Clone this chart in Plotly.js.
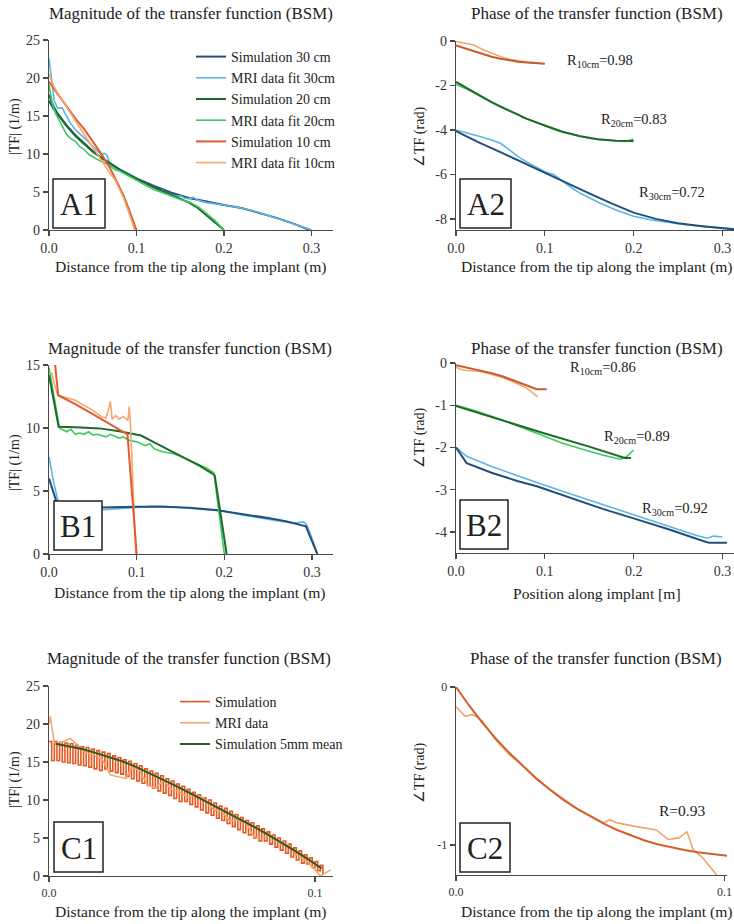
<!DOCTYPE html>
<html>
<head>
<meta charset="utf-8">
<script src="https://cdn.plot.ly/plotly-3.0.1.min.js"></script>
<style>
  html, body { margin: 0; padding: 0; background: #fff; }
  #chart { width: 734px; height: 924px; }
</style>
</head>
<body>
<div id="chart"></div>
<script>
// ---------- Panel A1: magnitude, 30/20/10 cm implants (1/m) ----------
const a1Sim30X = [0, 0.005, 0.01, 0.02, 0.03, 0.04, 0.05, 0.06, 0.07, 0.08, 0.09, 0.1, 0.12, 0.14, 0.16, 0.18, 0.2, 0.22, 0.24, 0.26, 0.28, 0.29, 0.298];
const a1Sim30Y = [17.0, 16.0, 15.2, 13.7, 12.4, 11.3, 10.3, 9.5, 8.7, 8.0, 7.4, 6.8, 5.8, 4.9, 4.2, 3.7, 3.3, 2.9, 2.3, 1.6, 0.8, 0.4, 0];
const a1Mri30X = [0, 0.003, 0.006, 0.01, 0.015, 0.02, 0.025, 0.03, 0.035, 0.04, 0.045, 0.05, 0.055, 0.06, 0.063, 0.066, 0.07, 0.075, 0.08, 0.09, 0.1, 0.11, 0.12, 0.125, 0.13, 0.135, 0.14, 0.145, 0.15, 0.155, 0.16, 0.165, 0.17, 0.18, 0.2, 0.22, 0.24, 0.26, 0.28, 0.29, 0.3];
const a1Mri30Y = [22.6, 19.5, 17.0, 16.0, 16.1, 15.0, 14.0, 13.2, 12.7, 12.2, 11.6, 11.0, 10.4, 9.9, 10.1, 9.9, 8.6, 8.2, 7.9, 7.3, 6.7, 6.2, 5.5, 5.3, 5.2, 4.8, 4.7, 4.4, 4.5, 4.2, 4.1, 4.3, 3.9, 3.6, 3.3, 2.9, 2.3, 1.6, 0.8, 0.4, 0];
const a1Sim20X = [0, 0.005, 0.01, 0.02, 0.03, 0.04, 0.05, 0.06, 0.07, 0.08, 0.09, 0.1, 0.12, 0.14, 0.16, 0.17, 0.18, 0.19, 0.2];
const a1Sim20Y = [17.8, 16.3, 15.3, 13.8, 12.5, 11.4, 10.4, 9.5, 8.7, 8.0, 7.3, 6.7, 5.6, 4.6, 3.6, 2.9, 1.9, 1.0, 0];
const a1Mri20X = [0, 0.004, 0.008, 0.012, 0.016, 0.02, 0.025, 0.03, 0.035, 0.04, 0.046, 0.05, 0.055, 0.06, 0.065, 0.07, 0.076, 0.08, 0.09, 0.1, 0.11, 0.12, 0.13, 0.14, 0.15, 0.16, 0.17, 0.18, 0.19, 0.2];
const a1Mri20Y = [19.1, 16.5, 15.2, 14.3, 13.4, 12.6, 12.0, 11.7, 11.0, 10.6, 9.9, 9.6, 9.3, 9.0, 8.8, 8.4, 7.9, 7.8, 7.2, 6.6, 6.0, 5.3, 4.9, 4.4, 4.0, 3.7, 3.1, 2.2, 1.2, 0];
const a1Sim10X = [0, 0.01, 0.02, 0.03, 0.04, 0.05, 0.06, 0.07, 0.08, 0.085, 0.09, 0.095, 0.1];
const a1Sim10Y = [19.5, 17.9, 16.3, 14.7, 13.3, 11.7, 10.0, 8.1, 5.9, 4.6, 3.1, 1.6, 0];
const a1Mri10X = [0, 0.005, 0.01, 0.02, 0.03, 0.04, 0.05, 0.06, 0.065, 0.07, 0.075, 0.08, 0.085, 0.09, 0.095, 0.098];
const a1Mri10Y = [20.5, 19.0, 18.0, 16.2, 14.3, 12.6, 10.9, 9.2, 8.2, 7.4, 6.7, 5.6, 4.3, 2.7, 0.8, 0];

// ---------- Panel A2: phase (rad) ----------
const a2Sim10X = [0, 0.01, 0.02, 0.03, 0.04, 0.05, 0.06, 0.07, 0.08, 0.09, 0.1];
const a2Sim10Y = [-0.2, -0.33, -0.47, -0.6, -0.71, -0.8, -0.87, -0.93, -0.97, -1.0, -1.02];
const a2Mri10X = [0, 0.01, 0.02, 0.03, 0.04, 0.05, 0.06, 0.07, 0.08, 0.09, 0.095];
const a2Mri10Y = [-0.02, -0.09, -0.18, -0.38, -0.55, -0.7, -0.82, -0.9, -0.95, -0.98, -0.99];
const a2Sim20X = [0, 0.02, 0.04, 0.06, 0.08, 0.1, 0.12, 0.14, 0.16, 0.18, 0.2];
const a2Sim20Y = [-1.84, -2.3, -2.75, -3.13, -3.5, -3.8, -4.08, -4.28, -4.42, -4.49, -4.5];
const a2Mri20X = [0, 0.01, 0.02, 0.03, 0.04, 0.05, 0.06, 0.07, 0.075, 0.08, 0.09, 0.1, 0.11, 0.12, 0.13, 0.14, 0.15, 0.16, 0.17, 0.18, 0.19, 0.2];
const a2Mri20Y = [-1.95, -2.12, -2.33, -2.55, -2.77, -2.97, -3.15, -3.3, -3.45, -3.5, -3.66, -3.82, -3.97, -4.1, -4.2, -4.3, -4.37, -4.43, -4.47, -4.5, -4.52, -4.42];
const a2Sim30X = [0, 0.025, 0.05, 0.075, 0.1, 0.125, 0.15, 0.175, 0.2, 0.225, 0.25, 0.275, 0.3, 0.313];
const a2Sim30Y = [-4.05, -4.55, -5.0, -5.47, -5.93, -6.4, -6.85, -7.3, -7.72, -8.0, -8.2, -8.32, -8.42, -8.47];
const a2Mri30X = [0, 0.01, 0.02, 0.03, 0.04, 0.05, 0.06, 0.07, 0.08, 0.09, 0.1, 0.105, 0.11, 0.12, 0.13, 0.14, 0.15, 0.16, 0.18, 0.2, 0.22, 0.25, 0.28, 0.3, 0.313];
const a2Mri30Y = [-4.0, -4.1, -4.2, -4.33, -4.45, -4.6, -4.9, -5.2, -5.45, -5.68, -5.88, -5.95, -6.0, -6.3, -6.6, -6.85, -7.05, -7.25, -7.6, -7.88, -8.05, -8.22, -8.35, -8.42, -8.46];
const a2Corr = ['0.98', '0.83', '0.72'];

// ---------- Panel B1: magnitude (1/m) ----------
const b1Sim30X = [0, 0.011, 0.03, 0.06, 0.1, 0.13, 0.16, 0.19, 0.22, 0.25, 0.27, 0.29, 0.293, 0.306];
const b1Sim30Y = [6.0, 3.6, 3.65, 3.7, 3.75, 3.75, 3.68, 3.5, 3.2, 2.85, 2.6, 2.3, 2.2, 0];
const b1Mri30X = [0, 0.005, 0.01, 0.015, 0.02, 0.03, 0.04, 0.05, 0.06, 0.07, 0.08, 0.09, 0.1, 0.12, 0.14, 0.16, 0.18, 0.2, 0.22, 0.24, 0.26, 0.28, 0.29, 0.293, 0.296, 0.306];
const b1Mri30Y = [7.7, 5.8, 4.3, 3.6, 3.5, 3.4, 3.35, 3.45, 3.5, 3.55, 3.65, 3.7, 3.75, 3.8, 3.75, 3.65, 3.55, 3.4, 3.1, 2.85, 2.65, 2.45, 2.55, 2.4, 2.0, 0];
const b1Sim20X = [0, 0.011, 0.03, 0.058, 0.08, 0.105, 0.12, 0.134, 0.15, 0.172, 0.189, 0.2026];
const b1Sim20Y = [14.2, 10.1, 10.05, 9.97, 9.75, 9.4, 8.85, 8.35, 7.75, 7.0, 6.25, 0];
const b1Mri20X = [0, 0.004, 0.008, 0.012, 0.02, 0.025, 0.03, 0.035, 0.04, 0.045, 0.05, 0.055, 0.06, 0.065, 0.07, 0.08, 0.085, 0.09, 0.1, 0.11, 0.115, 0.12, 0.13, 0.14, 0.15, 0.16, 0.17, 0.18, 0.188, 0.2];
const b1Mri20Y = [14.8, 13.3, 11.5, 10.0, 9.7, 9.9, 9.5, 9.6, 9.5, 9.7, 9.45, 9.5, 9.4, 9.3, 9.5, 9.2, 9.3, 9.05, 8.9, 8.6, 8.75, 8.35, 8.1, 8.0, 7.75, 7.45, 7.15, 6.8, 6.45, 0];
const b1Sim10X = [0.005, 0.007, 0.0105, 0.03, 0.05, 0.07, 0.0895, 0.1];
const b1Sim10Y = [15.3, 15.0, 12.6, 11.9, 11.1, 10.3, 9.5, 0];
const b1Mri10X = [0.003, 0.006, 0.01, 0.02, 0.03, 0.04, 0.05, 0.06, 0.065, 0.068, 0.07, 0.072, 0.076, 0.08, 0.085, 0.09, 0.0915, 0.093, 0.099];
const b1Mri10Y = [14.4, 13.5, 12.6, 12.4, 12.2, 11.8, 11.4, 10.9, 10.8, 11.5, 12.1, 10.7, 11.0, 10.7, 10.9, 10.6, 11.7, 10.2, 0];

// ---------- Panel B2: phase (rad) ----------
const b2Sim10X = [0, 0.01, 0.027, 0.04, 0.053, 0.065, 0.08, 0.091, 0.102];
const b2Sim10Y = [-0.05, -0.1, -0.17, -0.24, -0.32, -0.41, -0.52, -0.62, -0.62];
const b2Mri10X = [0, 0.005, 0.01, 0.02, 0.027, 0.04, 0.053, 0.065, 0.08, 0.086, 0.092];
const b2Mri10Y = [-0.1, -0.15, -0.17, -0.19, -0.2, -0.27, -0.35, -0.45, -0.6, -0.7, -0.8];
const b2Sim20X = [0, 0.05, 0.1, 0.15, 0.18, 0.19, 0.197];
const b2Sim20Y = [-1.02, -1.35, -1.67, -1.98, -2.18, -2.25, -2.25];
const b2Mri20X = [0, 0.02, 0.05, 0.08, 0.1, 0.12, 0.147, 0.165, 0.185, 0.192, 0.2];
const b2Mri20Y = [-1.0, -1.12, -1.33, -1.57, -1.74, -1.9, -2.07, -2.18, -2.28, -2.22, -2.06];
const b2Sim30X = [0, 0.012, 0.04, 0.07, 0.091, 0.12, 0.166, 0.2, 0.241, 0.279, 0.285, 0.305];
const b2Sim30Y = [-2.0, -2.37, -2.6, -2.8, -2.92, -3.13, -3.46, -3.68, -3.95, -4.22, -4.26, -4.26];
const b2Mri30X = [0, 0.012, 0.04, 0.07, 0.091, 0.12, 0.166, 0.2, 0.241, 0.27, 0.283, 0.29, 0.3];
const b2Mri30Y = [-2.0, -2.21, -2.45, -2.68, -2.83, -3.04, -3.36, -3.58, -3.87, -4.08, -4.15, -4.1, -4.12];
const b2Corr = ['0.86', '0.89', '0.92'];

// ---------- Panel C1: magnitude of a 10 cm implant ----------
// simulation sampled every 1 mm from the tip (values alternate between node and mid-element)
const c1SimStep = 0.001;
const c1SimY = [17.7, 15.2, 17.7, 15.2, 17.6, 15.0, 17.5, 14.9, 17.4, 14.8, 17.2, 14.6, 17.0, 14.5, 16.9, 14.3,
  16.7, 14.1, 16.5, 13.9, 16.3, 14.1, 16.1, 13.8, 15.8, 13.6, 15.6, 13.4, 15.3, 13.1, 15.1, 12.8,
  14.8, 12.5, 14.5, 12.2, 14.1, 11.9, 13.8, 11.6, 13.5, 11.2, 13.2, 10.9, 12.8, 10.6, 12.5, 10.2,
  12.1, 9.8, 11.8, 9.8, 11.4, 9.4, 11.0, 9.1, 10.7, 8.7, 10.3, 8.3, 10.0, 8.0, 9.6, 7.6,
  9.2, 7.3, 8.9, 6.9, 8.5, 6.5, 8.1, 6.1, 7.7, 5.7, 7.3, 5.4, 7.0, 5.0, 6.6, 4.6,
  6.2, 4.6, 5.8, 4.2, 5.4, 3.8, 5.0, 3.4, 4.6, 3.0, 4.2, 2.5, 3.7, 2.1, 3.3, 1.7,
  2.8, 1.6, 2.4, 1.1, 1.9, 0.7, 1.4, 0.2];
const c1MriX = [0, 0.0005, 0.002, 0.005, 0.008, 0.011, 0.014, 0.017, 0.02, 0.023, 0.026, 0.029, 0.031, 0.034, 0.037, 0.04, 0.043, 0.046, 0.049, 0.052, 0.055, 0.058, 0.062, 0.065, 0.068, 0.071, 0.074, 0.077, 0.08, 0.083, 0.087, 0.09, 0.093, 0.096, 0.099, 0.101, 0.102, 0.104, 0.106];
const c1MriY = [20.0, 21.0, 17.5, 17.6, 18.1, 17.2, 16.2, 15.9, 15.4, 13.3, 13.0, 12.8, 14.3, 13.9, 12.0, 11.6, 12.6, 11.4, 11.1, 10.4, 10.6, 10.3, 8.7, 8.5, 7.2, 7.4, 7.0, 5.2, 5.0, 5.4, 4.3, 4.1, 2.8, 2.2, 1.2, 0.3, 0.0, 0.4, 0.8];
const c1MeanX = [0.0025, 0.0075, 0.0125, 0.0175, 0.0225, 0.0275, 0.0325, 0.0375, 0.0425, 0.0475, 0.0525, 0.0575, 0.0625, 0.0675, 0.0725, 0.0775, 0.0825, 0.0875, 0.0925, 0.0975, 0.1025];
const c1MeanY = [17.4, 17.1, 16.7, 16.2, 15.7, 15.1, 14.4, 13.6, 12.8, 11.9, 11.0, 10.1, 9.2, 8.3, 7.3, 6.4, 5.4, 4.4, 3.3, 2.2, 1.0];

// ---------- Panel C2: phase of a 10 cm implant ----------
const c2SimX = [0, 0.005, 0.01, 0.015, 0.02, 0.025, 0.03, 0.035, 0.04, 0.045, 0.05, 0.055, 0.06, 0.065, 0.07, 0.075, 0.08, 0.085, 0.09, 0.095, 0.1, 0.102];
const c2SimY = [0, -0.12, -0.23, -0.33, -0.42, -0.5, -0.58, -0.65, -0.715, -0.77, -0.82, -0.865, -0.905, -0.94, -0.97, -0.995, -1.015, -1.032, -1.046, -1.057, -1.066, -1.07];
const c2MriX = [0, 0.0034, 0.006, 0.008, 0.01, 0.015, 0.02, 0.025, 0.03, 0.035, 0.04, 0.045, 0.05, 0.055, 0.0572, 0.06, 0.0672, 0.0746, 0.079, 0.083, 0.086, 0.0883, 0.092, 0.0963, 0.0985];
const c2MriY = [-0.124, -0.186, -0.175, -0.19, -0.22, -0.34, -0.43, -0.5, -0.585, -0.645, -0.71, -0.77, -0.815, -0.86, -0.84, -0.86, -0.884, -0.905, -0.965, -0.955, -0.916, -1.03, -1.084, -1.18, -1.22];
const c2Corr = '0.93';

// ---------- tick labels ----------
const xTicks3 = [0, 0.1, 0.2, 0.3];
const xTickText3 = ['0.0', '0.1', '0.2', '0.3'];
const xTicks1 = [0, 0.1];
const xTickText1 = ['0.0', '0.1'];
const magTicks25 = [0, 5, 10, 15, 20, 25];
const magTicks15 = [0, 5, 10, 15];
const phaseTicksA = [0, -2, -4, -6, -8];
const phaseTextA = ['0', '-2', '-4', '-6', '-8'];
const phaseTicksB = [0, -1, -2, -3, -4];
const phaseTextB = ['0', '-1', '-2', '-3', '-4'];
const phaseTicksC = [0, -1];
const phaseTextC = ['0', '-1'];

// ---------- styling ----------
const F = "'Liberation Serif', 'Times New Roman', Times, serif";
const W = 734, H = 924;
const px = v => v / W;          // pixel column -> paper x
const py = v => 1 - v / H;      // pixel row -> paper y

const NAVY = '#21507a', SKY = '#5cb6e4';
const DKGREEN = '#1f6a2b', LTGREEN = '#3ec95f';
const REDOR = '#e05c2c', LTOR = '#f6a76e';
const PHASE_OR = '#c75a2c';

function line(x, y, xa, ya, color, width, extra) {
  return Object.assign({ x, y, xaxis: xa, yaxis: ya, type: 'scatter', mode: 'lines',
    line: { color, width }, showlegend: false, hoverinfo: 'skip' }, extra || {});
}

const traces = [
  // A1
  line(a1Sim30X, a1Sim30Y, 'x', 'y', NAVY, 2, { name: 'Simulation 30 cm', showlegend: true, legend: 'legend', legendrank: 1 }),
  line(a1Mri30X, a1Mri30Y, 'x', 'y', SKY, 1.6, { name: 'MRI data fit 30cm', showlegend: true, legend: 'legend', legendrank: 2 }),
  line(a1Sim20X, a1Sim20Y, 'x', 'y', DKGREEN, 2, { name: 'Simulation 20 cm', showlegend: true, legend: 'legend', legendrank: 3 }),
  line(a1Mri20X, a1Mri20Y, 'x', 'y', LTGREEN, 1.6, { name: 'MRI data fit 20cm', showlegend: true, legend: 'legend', legendrank: 4 }),
  line(a1Sim10X, a1Sim10Y, 'x', 'y', REDOR, 2, { name: 'Simulation 10 cm', showlegend: true, legend: 'legend', legendrank: 5 }),
  line(a1Mri10X, a1Mri10Y, 'x', 'y', LTOR, 1.6, { name: 'MRI data fit 10cm', showlegend: true, legend: 'legend', legendrank: 6 }),
  // A2
  line(a2Mri10X, a2Mri10Y, 'x2', 'y2', LTOR, 1.6),
  line(a2Sim10X, a2Sim10Y, 'x2', 'y2', PHASE_OR, 2),
  line(a2Mri20X, a2Mri20Y, 'x2', 'y2', LTGREEN, 1.6),
  line(a2Sim20X, a2Sim20Y, 'x2', 'y2', DKGREEN, 2),
  line(a2Mri30X, a2Mri30Y, 'x2', 'y2', SKY, 1.6),
  line(a2Sim30X, a2Sim30Y, 'x2', 'y2', NAVY, 2),
  // B1
  line(b1Mri30X, b1Mri30Y, 'x3', 'y3', SKY, 1.6),
  line(b1Sim30X, b1Sim30Y, 'x3', 'y3', NAVY, 2),
  line(b1Mri20X, b1Mri20Y, 'x3', 'y3', LTGREEN, 1.6),
  line(b1Sim20X, b1Sim20Y, 'x3', 'y3', DKGREEN, 2),
  line(b1Mri10X, b1Mri10Y, 'x3', 'y3', LTOR, 1.6),
  line(b1Sim10X, b1Sim10Y, 'x3', 'y3', REDOR, 2),
  // B2
  line(b2Mri10X, b2Mri10Y, 'x4', 'y4', LTOR, 1.6),
  line(b2Sim10X, b2Sim10Y, 'x4', 'y4', PHASE_OR, 2),
  line(b2Mri20X, b2Mri20Y, 'x4', 'y4', LTGREEN, 1.6),
  line(b2Sim20X, b2Sim20Y, 'x4', 'y4', DKGREEN, 2),
  line(b2Mri30X, b2Mri30Y, 'x4', 'y4', SKY, 1.6),
  line(b2Sim30X, b2Sim30Y, 'x4', 'y4', NAVY, 2),
  // C1
  { y: c1SimY, x0: 0, dx: c1SimStep, xaxis: 'x5', yaxis: 'y5', type: 'scatter', mode: 'lines',
    line: { color: '#e8561f', width: 1.6, shape: 'hv' }, name: 'Simulation', legend: 'legend2', legendrank: 1, hoverinfo: 'skip' },
  line(c1MriX, c1MriY, 'x5', 'y5', '#f5a36a', 1.5, { name: 'MRI data', showlegend: true, legend: 'legend2', legendrank: 2 }),
  line(c1MeanX, c1MeanY, 'x5', 'y5', '#2b5b1f', 2, { name: 'Simulation 5mm mean', showlegend: true, legend: 'legend2', legendrank: 3 }),
  // C2
  line(c2MriX, c2MriY, 'x6', 'y6', '#f3a26f', 1.6),
  line(c2SimX, c2SimY, 'x6', 'y6', '#d2602c', 2)
];

function axis(domain, range, tickvals, ticktext, anchor, size) {
  return {
    domain, range, tickvals, ticktext, anchor, tickmode: 'array',
    showgrid: false, zeroline: false, showline: true, linecolor: '#4a4a4a', linewidth: 1.3,
    ticks: 'outside', ticklen: 5, tickwidth: 1.3, tickcolor: '#4a4a4a',
    tickfont: { family: F, size: size || 14, color: '#333' }, fixedrange: true
  };
}

const LX = [px(49), px(333)];
const RX = [px(456), 1];

const layout = {
  width: W, height: H, autosize: false,
  margin: { l: 0, r: 0, t: 0, b: 0, pad: 0 },
  paper_bgcolor: '#fff', plot_bgcolor: 'rgba(0,0,0,0)',
  font: { family: F, color: '#222' },
  xaxis:  axis(LX, [0, 0.3246], xTicks3, xTickText3, 'y'),
  yaxis:  axis([py(230), py(40)], [0, 25], magTicks25, magTicks25.map(String), 'x'),
  xaxis2: axis(RX, [0, 0.313], xTicks3, xTickText3, 'y2'),
  yaxis2: axis([py(230), py(41)], [-8.5, 0], phaseTicksA, phaseTextA, 'x2'),
  xaxis3: axis(LX, [0, 0.3239], xTicks3, xTickText3, 'y3'),
  yaxis3: axis([py(554), py(365)], [0, 15], magTicks15, magTicks15.map(String), 'x3'),
  xaxis4: axis(RX, [0, 0.313], xTicks3, xTickText3, 'y4'),
  yaxis4: axis([py(553), py(363)], [-4.5, 0], phaseTicksB, phaseTextB, 'x4'),
  xaxis5: axis(LX, [0, 0.1068], xTicks1, xTickText1, 'y5', 12),
  yaxis5: axis([py(876), py(686)], [0, 25], magTicks25, magTicks25.map(String), 'x5'),
  xaxis6: axis([px(456), px(727)], [0, 0.1009], xTicks1, xTickText1, 'y6', 12),
  yaxis6: axis([py(875), py(687)], [-1.19, 0], phaseTicksC, phaseTextC, 'x6', 12),
  legend: {
    x: px(191), y: py(41), xanchor: 'left', yanchor: 'top', bgcolor: 'rgba(0,0,0,0)',
    font: { family: F, size: 14, color: '#222' }, tracegroupgap: 0, traceorder: 'normal'
  },
  legend2: {
    x: px(175), y: py(686), xanchor: 'left', yanchor: 'top', bgcolor: 'rgba(0,0,0,0)',
    font: { family: F, size: 14, color: '#222' }, tracegroupgap: 0, traceorder: 'normal'
  },
  shapes: [],
  annotations: []
};

function text(x, y, t, size, opts) {
  layout.annotations.push(Object.assign({
    xref: 'paper', yref: 'paper', x: px(x), y: py(y), text: t, showarrow: false,
    xanchor: 'center', yanchor: 'middle', font: { family: F, size, color: '#222' }
  }, opts || {}));
}

// panel titles
const magTitle = 'Magnitude of the transfer function (BSM)';
const phaseTitle = 'Phase of the transfer function (BSM)';
const distTitle = 'Distance from the tip along the implant (m)';
text(191, 14, magTitle, 16.9);
text(597, 14, phaseTitle, 17);
text(190, 349, magTitle, 16.9);
text(597, 349, phaseTitle, 17);
text(189, 658, magTitle, 16.9);
text(596, 658, phaseTitle, 17);

// x-axis titles
text(191, 267, distTitle, 15.6);
text(597, 267, distTitle, 15.6);
text(190, 593, distTitle, 15.6);
text(597, 593, 'Position along implant [m]', 15.6);
text(191, 912, distTitle, 15.6);
text(597, 912, distTitle, 15.6);

// y-axis titles
const magY = '|TF| (1/m)', phaseY = '\u2220TF (rad)';
text(15, 127, magY, 14, { textangle: -90 });
text(420, 137, phaseY, 14, { textangle: -90 });
text(15, 463, magY, 14, { textangle: -90 });
text(420, 438, phaseY, 14, { textangle: -90 });
text(15, 780, magY, 14, { textangle: -90 });
text(420, 773, phaseY, 14, { textangle: -90 });

// correlation labels
const lens = ['10cm', '20cm', '30cm'];
const a2Pos = [[565, 61], [599, 120], [637, 193]];
const b2Pos = [[568, 368], [602, 437], [640, 509]];
lens.forEach((l, i) => {
  text(a2Pos[i][0], a2Pos[i][1], 'R<sub>' + l + '</sub>=' + a2Corr[i], 14.5, { xanchor: 'left' });
  text(b2Pos[i][0], b2Pos[i][1], 'R<sub>' + l + '</sub>=' + b2Corr[i], 14.5, { xanchor: 'left' });
});
text(657, 810, 'R=' + c2Corr, 15.5, { xanchor: 'left' });

// boxed panel letters
const boxes = [
  ['A1', 53, 179, 105, 228], ['A2', 460, 179, 511, 228],
  ['B1', 54, 501, 102, 550], ['B2', 460, 500, 508, 549],
  ['C1', 54, 822, 103, 872], ['C2', 460, 823, 510, 872]
];
boxes.forEach(([lab, x0, y0, x1, y1]) => {
  layout.shapes.push({ type: 'rect', xref: 'paper', yref: 'paper',
    x0: px(x0), x1: px(x1), y0: py(y1), y1: py(y0),
    line: { color: '#222', width: 1.5 }, fillcolor: '#fff', layer: 'above' });
  text((x0 + x1) / 2, (y0 + y1) / 2 + 1, lab, 31);
});

Plotly.newPlot('chart', traces, layout, { staticPlot: true, displayModeBar: false });
</script>
</body>
</html>
